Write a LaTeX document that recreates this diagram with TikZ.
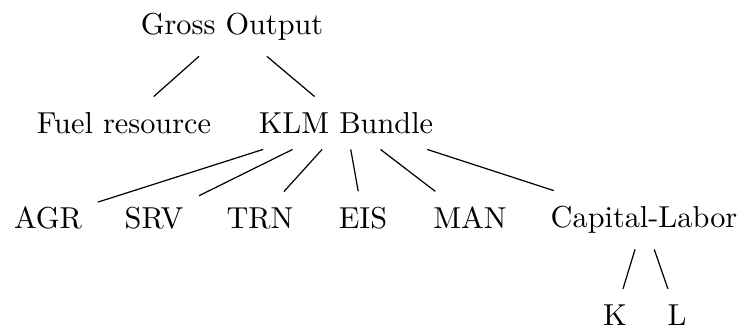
\documentclass[tikz,border=0pt]{standalone}
\usepackage{tikz}
\usetikzlibrary{positioning}

\begin{document}
\begin{tikzpicture}[x=0.33pt,y=-0.33pt,
  sector/.style={inner sep=5pt}]
  \useasboundingbox (0,0) rectangle (744,331);

  \node[sector] (gross) at (232,27) {Gross Output};

  \node[sector] (fuel) at (124,123) {Fuel resource};
  \node[sector] (klm) at (346,123) {KLM Bundle};

  \node[sector] (agr) at (48,218) {AGR};
  \node[sector] (srv) at (154,218) {SRV};
  \node[sector] (trn) at (260,218) {TRN};
  \node[sector] (eis) at (363,218) {EIS};
  \node[sector] (man) at (470,218) {MAN};
  \node[sector] (caplab) at (644,220) {Capital-Labor};

  \node[sector] (k) at (615,315) {K};
  \node[sector] (l) at (677,315) {L};

  \draw (gross) -- (fuel);
  \draw (gross) -- (klm);
  \foreach \sec in {agr,srv,trn,eis,man,caplab}
    \draw (klm) -- (\sec);
  \draw (caplab) -- (k);
  \draw (caplab) -- (l);
\end{tikzpicture}
\end{document}
